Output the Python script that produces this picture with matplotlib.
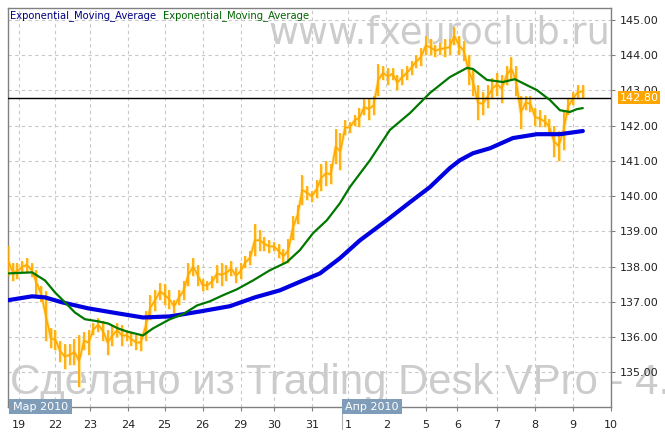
import matplotlib
matplotlib.use('Agg')
import matplotlib.pyplot as plt
import matplotlib.transforms as mtransforms
from matplotlib.patches import Rectangle
import numpy as np

# hourly time axis (hours from the left edge), one price bar every 3 hours
bar_hour = np.arange(0, 364, 3)
bar_high = [138.6, 138.1, 138.1, 138.15, 138.25, 138.1, 137.9, 137.45, 137.3, 136.25,
            136.2, 135.9, 135.8, 135.8, 135.95, 136.05, 136.15, 136.2, 136.4, 136.55,
            136.45, 136.2, 136.35, 136.4, 136.35, 136.2, 136.15, 136.05, 136.1, 136.75,
            137.2, 137.35, 137.55, 137.5, 137.35, 137.05, 137.35, 137.6, 138.1, 138.25,
            138.05, 137.65, 137.6, 137.75, 138.05, 138.1, 138.05, 138.15, 137.95, 138.1,
            138.3, 138.45, 139.2, 139.05, 138.85, 138.75, 138.7, 138.65, 138.5, 138.8,
            139.45, 139.75, 140.6, 140.3, 140.15, 140.45, 140.9, 141.0, 140.9, 141.9,
            141.8, 142.15, 142.1, 142.3, 142.5, 142.75, 142.8, 142.85, 143.75, 143.7,
            143.65, 143.65, 143.45, 143.6, 143.7, 143.85, 144.0, 144.2, 144.55, 144.45,
            144.3, 144.35, 144.45, 144.45, 144.8, 144.55, 144.4, 144.0, 143.6, 143.15,
            142.95, 143.15, 143.35, 143.5, 143.45, 143.7, 143.95, 143.7, 142.85, 142.85,
            142.85, 142.5, 142.45, 142.3, 142.2, 142.0, 141.85, 142.45, 142.8, 142.95,
            143.15, 143.15]
bar_low = [137.75, 137.6, 137.65, 137.85, 137.85, 137.7, 137.2, 137.0, 135.9, 135.7,
           135.65, 135.3, 135.1, 135.2, 135.2, 134.6, 135.65, 135.5, 136.05, 136.15,
           135.9, 135.5, 135.75, 136.0, 135.75, 135.9, 135.75, 135.65, 135.6, 135.9,
           136.5, 136.75, 137.05, 136.9, 136.8, 136.7, 136.9, 137.05, 137.45, 137.75,
           137.45, 137.3, 137.35, 137.4, 137.55, 137.45, 137.6, 137.75, 137.55, 137.65,
           137.95, 138.05, 138.3, 138.45, 138.45, 138.4, 138.45, 138.25, 138.1, 138.1,
           138.75, 139.2, 139.75, 139.9, 139.85, 139.95, 140.15, 140.3, 140.35, 140.9,
           140.75, 141.75, 141.8, 142.0, 141.95, 142.3, 142.15, 142.3, 142.85, 143.3,
           143.15, 143.3, 143.0, 143.15, 143.3, 143.45, 143.65, 143.7, 144.0, 144.0,
           143.95, 144.0, 143.95, 144.0, 144.3, 144.0, 143.85, 143.15, 142.85, 142.15,
           142.3, 142.5, 142.75, 142.85, 142.65, 143.15, 143.3, 142.85, 141.9, 142.45,
           142.4, 142.0, 141.95, 141.95, 141.75, 141.1, 141.0, 141.3, 142.3, 142.6,
           142.75, 142.8]

# fast EMA (green)
ema_fast_hour = [0, 15.2, 23.4, 29.7, 36, 42.3, 48.6, 56.9, 63.2, 69.5, 75.2, 85.3, 91.6,
                 102.3, 110.5, 119.4, 127.6, 135.8, 144.7, 154.8, 165.5, 176.2, 184.4,
                 192.7, 201.5, 209.7, 216, 228.7, 241.3, 254, 266.6, 279.2, 290, 293.8,
                 302.6, 312.7, 320.3, 327.9, 334.2, 342.4, 348.7, 355, 359.4, 363.2]
ema_fast = [137.81, 137.84, 137.61, 137.27, 136.99, 136.70, 136.51, 136.45, 136.39, 136.25,
            136.16, 136.05, 136.25, 136.51, 136.65, 136.90, 137.02, 137.19, 137.36, 137.61,
            137.90, 138.13, 138.47, 138.95, 139.32, 139.80, 140.26, 141.02, 141.88, 142.36,
            142.93, 143.38, 143.64, 143.61, 143.30, 143.24, 143.32, 143.15, 143.01, 142.73,
            142.44, 142.39, 142.47, 142.50]

# slow EMA (blue)
ema_slow_hour = [0, 15.2, 23.4, 34.1, 50.5, 68.9, 85.3, 102.3, 121.3, 140.2, 156, 171.8,
                 186.4, 197.1, 209.7, 222.4, 239.4, 254, 266.6, 279.2, 285.5, 293.8,
                 304.5, 319, 334.2, 348.7, 363.2]
ema_slow = [137.05, 137.16, 137.13, 136.99, 136.82, 136.68, 136.56, 136.59, 136.73, 136.88,
            137.13, 137.33, 137.61, 137.81, 138.24, 138.75, 139.32, 139.83, 140.26, 140.80,
            141.02, 141.22, 141.36, 141.65, 141.76, 141.76, 141.85]

last_price = 142.80
day_hour = [7, 30, 52, 76, 99, 123, 147, 168, 192, 215, 239, 264, 284, 309, 333, 357, 381]
day_labels = ['19', '22', '23', '24', '25', '26', '29', '30', '31',
              '1', '2', '5', '6', '7', '8', '9', '10']
price_ticks = [135, 136, 137, 138, 139, 140, 141, 142, 143, 144, 145]

W, H = 665, 436
fig = plt.figure(figsize=(W / 100, H / 100), dpi=100, facecolor='white')
ax = fig.add_axes([8 / W, 29 / H, 603 / W, 399 / H])
ax.set_facecolor('none')

# watermarks behind the axes
fig.text(268 / W, 1 - 43 / H, 'www.fxeuroclub.ru', fontsize=26.5, color='#cccccc',
         family='DejaVu Sans', va='baseline', ha='left', zorder=-5)
fig.text(10 / W, 1 - 394 / H, 'Сделано из Trading Desk VPro - 4.', fontsize=30.2,
         color='#cccccc', family='Liberation Sans', va='baseline', ha='left', zorder=-5)

# price bars: thin high-low bars plus a trace through the bar middles
bar_mid = (np.array(bar_high) + np.array(bar_low)) / 2
ax.vlines(bar_hour, bar_low, bar_high, color='#ffe28f', lw=2.4, zorder=2)
ax.plot(bar_hour, bar_mid, color='#ffe28f', lw=2.4, zorder=2)
ax.vlines(bar_hour, bar_low, bar_high, color='#ffa800', lw=1.2, zorder=3)
ax.plot(bar_hour, bar_mid, color='#ffa800', lw=1.1, zorder=3)

ax.plot(ema_slow_hour, ema_slow, color='#0000e0', lw=3.0, zorder=5, solid_capstyle='round')
ax.plot(ema_fast_hour, ema_fast, color='#007800', lw=1.6, zorder=6, solid_capstyle='round')

ax.axhline(last_price, color='black', lw=1, zorder=4)

ax.set_xlim(0, 381)
ax.set_ylim(134.02, 145.34)

ax.yaxis.tick_right()
ax.set_yticks(price_ticks)
ax.set_yticklabels(['%.2f' % p for p in price_ticks])
ax.set_xticks(day_hour)
ax.set_xticklabels(day_labels)
ax.tick_params(axis='y', direction='out', length=3, pad=3, colors='#808080',
               labelcolor='#222222', labelsize=8)
ax.tick_params(axis='x', direction='out', length=3, pad=6, colors='#808080',
               labelcolor='#222222', labelsize=8)
for s in ax.spines.values():
    s.set_color('#808080')
    s.set_linewidth(1)

ax.grid(True, color='#c8c8c8', lw=0.8, ls=(0, (3, 3)))
ax.set_axisbelow(True)

# last price marker on the right scale
tr = mtransforms.blended_transform_factory(ax.transAxes, ax.transData)
ax.text(1.0145, last_price, '%.2f' % last_price, transform=tr, color='white', fontsize=8,
        ha='left', va='center', zorder=10, clip_on=False,
        bbox=dict(boxstyle='square,pad=0.12', fc='#ffa500', ec='none'))

# month boxes on the time axis
trx = mtransforms.blended_transform_factory(ax.transData, ax.transAxes)
for x0, x1, lab in [(0.6, 40.4, 'Мар 2010'), (211, 249, 'Апр 2010')]:
    ax.add_patch(Rectangle((x0, -0.0175), x1 - x0, 0.0375, transform=trx,
                           fc='#7f9db9', ec='none', clip_on=False, zorder=10))
    ax.text((x0 + x1) / 2, 0.001, lab, transform=trx, color='white', fontsize=8,
            ha='center', va='center', clip_on=False, zorder=11)
ax.plot([211, 211], [-0.0175, -0.055], transform=trx, color='#b0b0b0', lw=0.8,
        clip_on=False)

# indicator captions
fig.text(10 / W, 1 - 18 / H, 'Exponential_Moving_Average', color='#000080',
         fontsize=7.2, va='baseline', ha='left')
fig.text(163 / W, 1 - 18 / H, 'Exponential_Moving_Average', color='#006400',
         fontsize=7.2, va='baseline', ha='left')

fig.savefig('out.png', dpi=100, facecolor='white')
